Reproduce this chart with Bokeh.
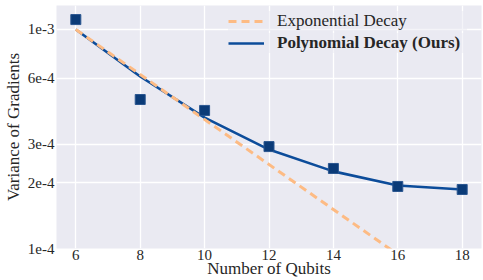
from bokeh.plotting import figure
from bokeh.models import FixedTicker, Legend, LegendItem, Range1d
from bokeh.embed import file_html
from bokeh.resources import INLINE

qubits = [6, 8, 10, 12, 14, 16, 18]
measured = [1.11e-3, 4.79e-4, 4.27e-4, 2.92e-4, 2.32e-4, 1.92e-4, 1.86e-4]
poly_fit = [1.0e-3, 6.1e-4, 3.96e-4, 2.83e-4, 2.25e-4, 1.94e-4, 1.86e-4]
exp_x = [6, 18]
exp_fit = [1.0e-3, 5.85e-5]
y_ticks = [1e-4, 2e-4, 3e-4, 6e-4, 1e-3]
y_labels = ["1e-4", "2e-4", "3e-4", "6e-4", "1e-3"]
x_ticks = [6, 8, 10, 12, 14, 16, 18]

FONT = "Liberation Serif"
TXT = "#262626"

p = figure(width=483, height=280, y_axis_type="log", output_backend="svg",
           toolbar_location=None, x_range=Range1d(5.4, 18.6),
           y_range=Range1d(1e-4, 1.287e-3),
           min_border_left=56, min_border_right=2, min_border_top=5,
           min_border_bottom=32)
p.background_fill_color = "#eaeaf2"
p.border_fill_color = "white"
p.outline_line_color = None

p.xaxis.ticker = FixedTicker(ticks=x_ticks, minor_ticks=[])
p.yaxis.ticker = FixedTicker(ticks=y_ticks, minor_ticks=[])
p.yaxis.major_label_overrides = {t: l for t, l in zip(y_ticks, y_labels)}
for ax in (p.xaxis, p.yaxis):
    ax.axis_line_color = None
    ax.major_tick_line_color = None
    ax.minor_tick_line_color = None
    ax.major_tick_out = 0
    ax.major_tick_in = 0
    ax.major_label_text_font = FONT
    ax.major_label_text_font_size = "15px"
    ax.major_label_text_color = TXT
    ax.axis_label_text_font = FONT
    ax.axis_label_text_font_size = "17px"
    ax.axis_label_text_font_style = "normal"
    ax.axis_label_text_color = TXT
p.xaxis.axis_label = "Number of Qubits"
p.yaxis.axis_label = "Variance of Gradients"
p.xaxis.major_label_standoff = 1
p.xaxis.axis_label_standoff = -4
p.yaxis.major_label_standoff = 2
p.yaxis.axis_label_standoff = 2

p.grid.grid_line_color = "white"
p.grid.grid_line_width = 1.3
p.grid.minor_grid_line_color = None

r_poly = p.line(qubits, poly_fit, line_color="#0c4c9a", line_width=2.6)
r_exp = p.line(exp_x, exp_fit, line_color="#fdbb84", line_width=3, line_dash="8 5")
p.scatter(qubits, measured, marker="square", size=10, fill_color="#0b3b78",
          line_color="#2a5690", line_width=1)

def make_legend(item, loc, style):
    lg = Legend(items=[item], location=loc, orientation="vertical",
                label_text_font=FONT, label_text_font_size="17px",
                label_text_font_style=style, label_text_color=TXT,
                glyph_width=36, glyph_height=20, label_height=20,
                label_width=190, label_standoff=13, padding=2, spacing=0,
                margin=0, border_line_color=None,
                background_fill_color="#eaeaf2", background_fill_alpha=0.5)
    return lg

p.add_layout(make_legend(LegendItem(label="Exponential Decay", renderers=[r_exp]),
                         (172, 217), "normal"))
p.add_layout(make_legend(LegendItem(label="Polynomial Decay (Ours)", renderers=[r_poly]),
                         (172, 195), "bold"))

open("out.html", "w").write(file_html(p, INLINE))
